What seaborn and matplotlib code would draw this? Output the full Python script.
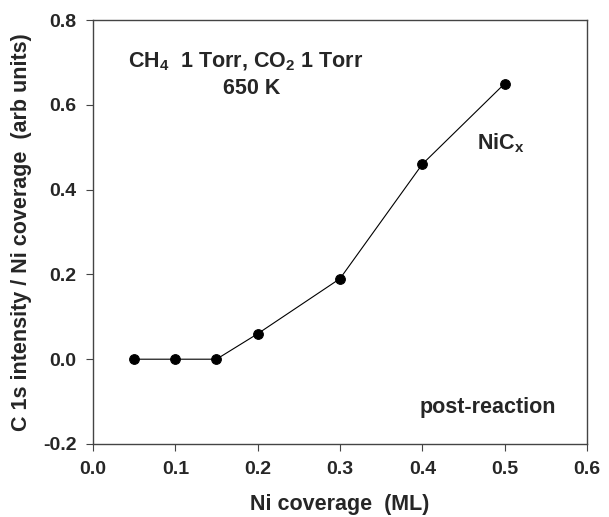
import matplotlib
matplotlib.use("Agg")
import matplotlib.pyplot as plt
import seaborn as sns
import pandas as pd

ni_coverage = [0.05, 0.10, 0.15, 0.20, 0.30, 0.40, 0.50]
c1s_ratio = [0.0, 0.0, 0.0, 0.06, 0.19, 0.46, 0.65]
x_ticks = [0.0, 0.1, 0.2, 0.3, 0.4, 0.5, 0.6]
y_ticks = [-0.2, 0.0, 0.2, 0.4, 0.6, 0.8]

sns.set_style("ticks")
plt.rcParams['font.family'] = ['Liberation Sans', 'DejaVu Sans']
plt.rcParams['font.weight'] = 'bold'
plt.rcParams['mathtext.fontset'] = 'custom'
plt.rcParams['mathtext.rm'] = 'Liberation Sans:bold'
plt.rcParams['mathtext.it'] = 'Liberation Sans:bold'
plt.rcParams['mathtext.bf'] = 'Liberation Sans:bold'

df = pd.DataFrame({"x": ni_coverage, "y": c1s_ratio})

fig = plt.figure(figsize=(6.09, 5.17), dpi=100)
ax = fig.add_axes([0.1527, 0.1412, 0.8112, 0.8201])
sns.lineplot(data=df, x="x", y="y", ax=ax, color="black", linewidth=0.8,
             marker="o", markersize=7, markeredgecolor="black", markerfacecolor="black")

ax.set_xlim(0.0, 0.6)
ax.set_ylim(-0.2, 0.8)
ax.set_xticks(x_ticks)
ax.set_yticks(y_ticks)
ax.set_xticklabels([f"{v:.1f}" for v in x_ticks])
ax.set_yticklabels([f"{v:.1f}" for v in y_ticks])
ax.tick_params(direction="out", length=5, width=0.8, labelsize=14, pad=7, color="#444444")
for s in ax.spines.values():
    s.set_color("#444444")
    s.set_linewidth(1.0)

ax.set_xlabel("Ni coverage  (ML)", fontsize=15.5, fontweight="bold", labelpad=12)
ax.set_ylabel("C 1s intensity / Ni coverage  (arb units)", fontsize=15.5, fontweight="bold", labelpad=8)

ax.text(0.0425, 0.701, r"CH$_4$  1 Torr, CO$_2$ 1 Torr", fontsize=15.5, fontweight="bold", ha="left", va="center")
ax.text(0.193, 0.638, "650 K", fontsize=15.5, fontweight="bold", ha="center", va="center")
ax.text(0.466, 0.510, r"NiC$_x$", fontsize=15.5, fontweight="bold", ha="left", va="center")
ax.text(0.397, -0.115, "post-reaction", fontsize=15.5, fontweight="bold", ha="left", va="center")

fig.savefig("out.png", dpi=100)
